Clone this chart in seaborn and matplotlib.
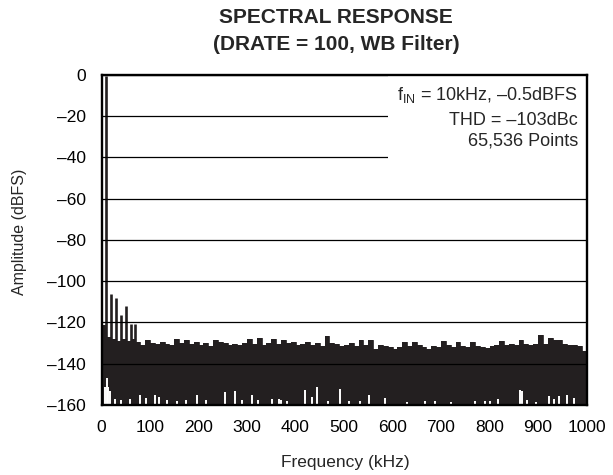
import numpy as np
import seaborn as sns
import matplotlib.pyplot as plt
from matplotlib.patches import Rectangle

# fundamental and harmonics (kHz, dBFS)
fund_khz = 10
fund_db = -0.5
harm_khz = [20, 30, 40, 50, 60, 70]
harm_db = [-106, -108, -116.5, -112, -120.5, -120.5]

# noise floor upper edge, one value per 10 kHz bin
bin_khz = np.arange(0, 1000, 10)
noise_top_db = [
    -121, -127, -128, -129, -128, -129, -128, -129.5, -131, -128.5,
    -130, -130.5, -129.5, -130.5, -131, -128, -130, -128.5, -130.5, -129.5,
    -131, -130, -131.5, -128.5, -129.5, -130, -131, -130.5, -131, -130,
    -128, -130.5, -127.5, -131, -130, -128, -130.5, -128.5, -130, -129.5,
    -131, -130.5, -129.5, -131, -130, -131.5, -126.5, -130, -130.5, -131.5,
    -131, -130, -131.5, -128.5, -131, -128.5, -133, -131, -131.5, -132,
    -133, -132, -129.5, -131.5, -129.5, -131, -132, -133, -131.5, -132,
    -129, -131, -132, -129.5, -131.5, -132, -129.5, -131.5, -132, -132.5,
    -131.5, -131, -129, -131, -130.5, -131, -128.5, -130.5, -131, -130.5,
    -126, -130.5, -127.5, -128.5, -128.5, -130.5, -131, -131, -131.5, -134,
]

# deep minima of the noise floor (white notches at the bottom)
dip_khz = [8, 11, 14, 17, 28, 40, 58, 79, 92, 110, 119, 135, 155, 175, 196, 215,
           255, 276, 290, 310, 322, 351, 365, 370, 382, 420, 434, 445, 467, 492,
           510, 533, 551, 585, 630, 668, 688, 720, 771, 790, 800, 817, 862, 866,
           878, 895, 922, 932, 943, 959, 975]
dip_db = [-151.5, -147, -151.5, -153, -157, -157.5, -157, -155, -156.5, -155,
          -156, -157.5, -158, -157.5, -155, -157.5, -153.5, -153, -157.5, -155,
          -157.5, -157, -157, -157.5, -158, -152.5, -156, -151.3, -158, -152.3,
          -158, -158, -155, -156.5, -158.5, -158, -158, -158.5, -158, -158,
          -158, -157, -152.8, -153, -157.5, -158.5, -155.7, -157, -155.5, -155,
          -156.5]

x_ticks = list(range(0, 1001, 100))
y_ticks = list(range(-160, 1, 20))
y_labels = ["0" if v == 0 else "\u2013" + str(-v) for v in y_ticks]

sns.set_theme(style="white")
plt.rcParams['font.family'] = ['Liberation Sans', 'DejaVu Sans']
plt.rcParams['mathtext.fontset'] = 'custom'
plt.rcParams['mathtext.rm'] = 'Liberation Sans'
plt.rcParams['mathtext.it'] = 'Liberation Sans:italic'

ink = "#231f20"
fig = plt.figure(figsize=(6.13, 4.75), dpi=100)
ax = fig.add_axes([0.1656, 0.1474, 0.7912, 0.6947])

edges = np.append(bin_khz, 1000)
tops = np.append(noise_top_db, noise_top_db[-1])
ax.fill_between(edges, -160, tops, step="post", color=ink, lw=0, zorder=1)
sns.lineplot(x=edges, y=tops, drawstyle="steps-post", color=ink, lw=0.6, ax=ax, zorder=1)

ax.vlines([fund_khz], -160, fund_db, color=ink, lw=1.9, zorder=2)
ax.vlines(harm_khz, -160, harm_db, color=ink, lw=1.9, zorder=2)
ax.vlines(dip_khz, -160, dip_db, color="white", lw=1.4, zorder=2.2)

ax.set_xlim(0, 1000)
ax.set_ylim(-160, 0)
ax.set_xticks(x_ticks)
ax.set_xticklabels([str(v) for v in x_ticks])
ax.set_yticks(y_ticks)
ax.set_yticklabels(y_labels)
ax.tick_params(axis="both", length=0, labelsize=12.5, colors="black")
ax.tick_params(axis="x", pad=11)
ax.tick_params(axis="y", pad=11.5)

ax.set_axisbelow(False)
ax.yaxis.grid(True, color="black", lw=0.9)
ax.xaxis.grid(False)
for s in ax.spines.values():
    s.set_color("black")
    s.set_linewidth(1.7)
    s.set_zorder(5)

# white patch behind the annotation
ax.add_patch(Rectangle((0.591, 0.742), 0.409, 0.258, transform=ax.transAxes,
                       facecolor="white", edgecolor="none", zorder=3))
tx = 0.9825
ax.text(tx, 0.924, "f$_{\\mathrm{IN}}$ = 10kHz, \u20130.5dBFS",
        transform=ax.transAxes, ha="right", va="baseline", fontsize=13, zorder=4)
ax.text(tx, 0.848, "THD = \u2013103dBc", transform=ax.transAxes,
        ha="right", va="baseline", fontsize=13, zorder=4)
ax.text(tx, 0.786, "65,536 Points", transform=ax.transAxes,
        ha="right", va="baseline", fontsize=13, zorder=4)

fig.text(336 / 613, 0.951, "SPECTRAL RESPONSE", ha="center", va="baseline",
         fontsize=15, fontweight="bold")
fig.text(336 / 613, 0.8947, "(DRATE = 100, WB Filter)", ha="center", va="baseline",
         fontsize=15, fontweight="bold")
fig.text(345 / 613, 1 - 467 / 475, "Frequency (kHz)", ha="center", va="baseline",
         fontsize=12.5)
fig.text(20 / 613, 1 - 232 / 475, "Amplitude (dBFS)", ha="center", va="center",
         rotation=90, fontsize=11.5)

fig.savefig("out.png", dpi=100)
